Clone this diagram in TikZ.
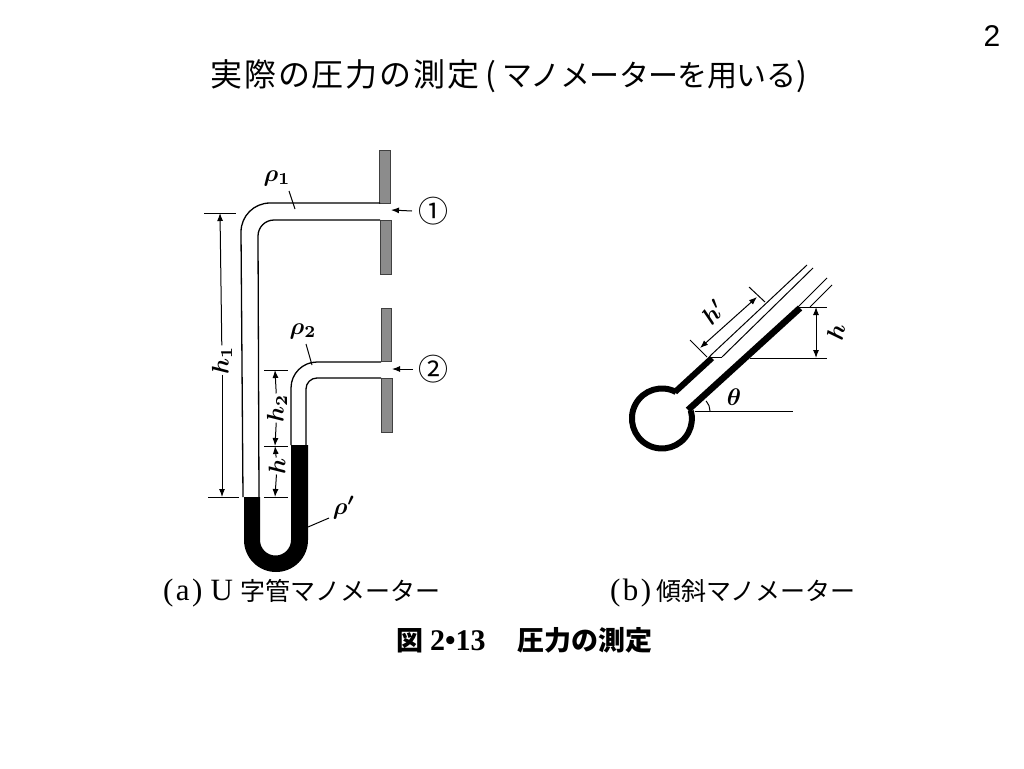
\documentclass[tikz,border=0pt]{standalone}
\usepackage{fontspec}
\setmainfont{Liberation Serif}
\newfontfamily\sansjp{Noto Sans CJK JP}
\newfontfamily\sansjpwide[LetterSpace=6]{Noto Sans CJK JP}
\newfontfamily\sansjpkana[LetterSpace=-2]{Noto Sans CJK JP}
\newfontfamily\sansnum{Liberation Sans}
\newfontfamily\captlatin[LetterSpace=8]{Liberation Serif}
\usetikzlibrary{arrows.meta, calc, positioning}

\begin{document}
\begin{tikzpicture}[x=1pt, y=-1pt]
    % Styles
    \tikzstyle{plate} = [draw=black!75, fill=black!45, line width=0.9pt]
    \tikzstyle{wall} = [draw, line width=1.3pt]
    \tikzstyle{leader} = [draw, line width=1pt]
    \tikzstyle{dim} = [draw, line width=1pt, -{Latex[length=8pt, width=6pt]}]
    \tikzstyle{dimboth} = [draw, line width=1pt, {Latex[length=8pt, width=6pt]}-{Latex[length=8pt, width=6pt]}]
    \tikzstyle{symb} = [inner sep=0pt, scale=2.4, font=\boldmath]
    \tikzstyle{capt} = [inner sep=0pt, anchor=west, font=\sansjp\fontsize{25}{28}\selectfont]
    \tikzstyle{ptmark} = [inner sep=0pt, font=\sansjp\fontsize{30}{32}\selectfont]

    \useasboundingbox (0,0) rectangle (1024,768);

    % Title and captions
    \node[inner sep=0pt, font=\sansnum\fontsize{30}{36}\selectfont] (pagenum) at (992,36) {2};
    \node[inner sep=0pt, anchor=west] (titletext) at (210,76) {\fontsize{32}{36}\selectfont{\sansjpwide 実際の圧力の測定}\kern6pt{\sansjp (}\kern6pt{\fontsize{30}{36}\selectfont\sansjpkana マノメーターを用いる}{\sansjp )}};
    \node[capt] (capa) at (163,593) {{\fontsize{31}{28}\selectfont\captlatin (a)\kern8pt U}\kern8pt 字管マノメーター};
    \node[capt] (capb) at (610,593) {{\fontsize{31}{28}\selectfont\captlatin (b)}\kern5pt 傾斜マノメーター};
    \node[inner sep=0pt, anchor=west, font=\sansjp\bfseries\fontsize{27}{30}\selectfont] (captfig) at (396,640) {\makebox[121pt][l]{図\kern7pt{\fontsize{30}{30}\selectfont\rmfamily\bfseries 2•13}}圧力の測定};

    % Plates of the pipe walls
    \filldraw[plate] (379.5,150) rectangle (390.5,203);
    \filldraw[plate] (380,220) rectangle (391,274);
    \filldraw[plate] (381,308) rectangle (391,361);
    \filldraw[plate] (381.5,378) rectangle (392,432);

    % Manometer fluid
    \fill (244,497) -- (260,497) -- (260,540) arc[start angle=180, end angle=0, radius=15.5] -- (291,445) -- (308,445)
        -- (308,540) arc[start angle=0, end angle=180, radius=32] -- cycle;

    % Tube walls
    \draw[wall] (380,203) -- (270,203) arc[start angle=-90, end angle=-180, radius=29] -- (243,497);
    \draw[wall] (380,220) -- (274,220) arc[start angle=-90, end angle=-180, radius=16] -- (259,497);
    \draw[wall] (381,362) -- (317,362) arc[start angle=-90, end angle=-180, radius=26] -- (291,445);
    \draw[wall] (381,378) -- (317,378) arc[start angle=-90, end angle=-180, radius=11] -- (306,445);

    % Dimension ticks
    \coordinate (hatop) at (220,213);
    \coordinate (habot) at (222,497);
    \coordinate (hbtop) at (275,370);
    \coordinate (hmid) at (275,446);
    \coordinate (hbot) at (275,497);
    \draw[leader] (204,213) -- (236,213);
    \draw[leader] (208,497) -- (239,497);
    \draw[leader] (264,370) -- (288,370);
    \draw[leader] (264,446) -- (288,446);
    \draw[leader] (264,497) -- (288,497);

    % Dimension labels
    \node[symb, rotate=90] (hone) at (222,360) {$h_1$};
    \node[symb, rotate=90] (htwo) at (277,408) {$h_2$};
    \node[symb, rotate=90] (hlow) at (277,466) {$h$};
    \draw[dim] (hone) -- (hatop);
    \draw[dim] (hone) -- (habot);
    \draw[dim] (htwo) -- (hbtop);
    \draw[dim] (htwo) -- (hmid);
    \draw[dim] (hlow) -- (hmid);
    \draw[dim] (hlow) -- (hbot);

    % Density labels
    \node[symb] (rhoa) at (277,178) {$\rho_1$};
    \node[symb] (rhob) at (303,331) {$\rho_2$};
    \node[symb] (rhoc) at (344,508) {$\rho'$};
    \coordinate (rhoaend) at (295,209);
    \coordinate (rhobend) at (312,365);
    \coordinate (rhocend) at (308,527);
    \draw[leader] (rhoa) ++(12,13) -- (rhoaend);
    \draw[leader] (rhob) ++(3,13) -- (rhobend);
    \draw[leader] (rhoc) ++(-15,10) -- (rhocend);

    % Pressure points
    \node[ptmark] (pone) at (433,211) {①};
    \node[ptmark] (ptwo) at (433,369) {②};
    \coordinate (pina) at (391,210);
    \coordinate (pinb) at (392,369);
    \draw[dim] (pone) ++(-21,0) -- (pina);
    \draw[dim] (ptwo) ++(-20,0) -- (pinb);

    % Inclined manometer
    \draw[line width=6pt] (675,392) -- (712,358);
    \draw[line width=6.5pt] (688,410) -- (800,308);
    \draw[line width=6pt] (676,392) arc[start angle=-62, end angle=-375, radius=30];
    \draw[leader] (710,356) -- (807,265);
    \draw[leader] (722,357) -- (813,268);
    \draw[leader] (798,307) -- (827,278);
    \draw[leader] (810,307) -- (832,285);
    \draw[leader] (710,357) -- (722,357);
    \draw[leader] (798,307) -- (827,307);
    \draw[leader] (750,358) -- (827,358);
    \draw[leader] (695,411) -- (793,411);
    \draw[leader] (690,340) -- (707,357);
    \draw[leader] (749,287) -- (765,302);

    \coordinate (hpa) at (700,348);
    \coordinate (hpb) at (757,297);
    \draw[dimboth] (hpa) -- (hpb);
    \coordinate (hca) at (816,307);
    \coordinate (hcb) at (816,358);
    \draw[dimboth] (hca) -- (hcb);
    \draw[leader] (710,411) arc[start angle=0, end angle=-42, radius=15];

    \node[symb, rotate=48] (hprime) at (713,312) {$h'$};
    \node[symb, rotate=78] (hslant) at (836,332) {$h$};
    \node[symb] (theta) at (734,397) {$\theta$};
\end{tikzpicture}
\end{document}
